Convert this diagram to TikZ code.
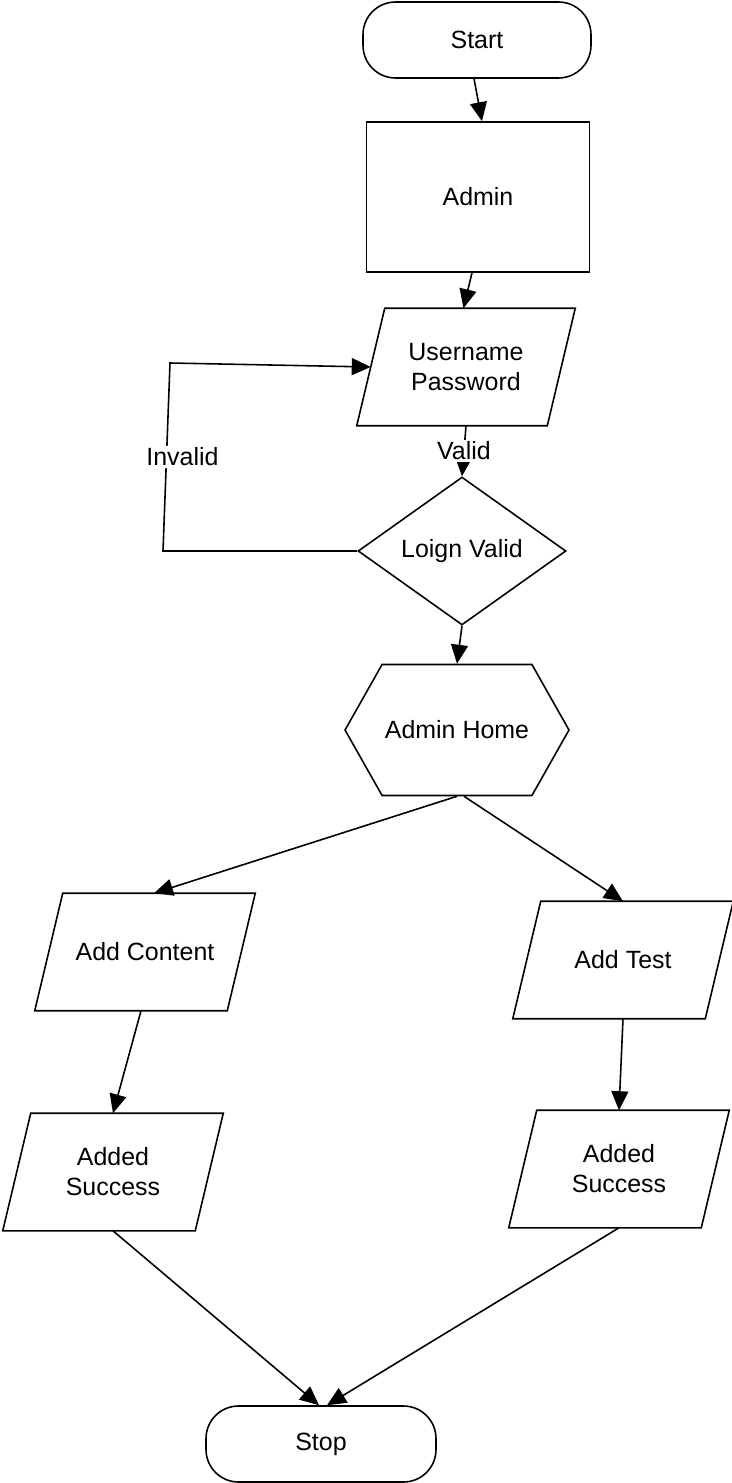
\documentclass[tikz,border=0pt]{standalone}
\usepackage{fontspec}
\setmainfont{Liberation Sans}
\usepackage{tikz}
\usetikzlibrary{shapes.geometric,shapes.symbols,arrows.meta}

\begin{document}
\begin{tikzpicture}[x=0.02cm, y=-0.02cm,
        every node/.style={font=\fontsize{14.2pt}{17pt}\selectfont, align=center, line width=0.9pt},
        terminal/.style={draw, rectangle, rounded corners=0.65cm, minimum width=4.56cm, minimum height=1.52cm},
        process/.style={draw, rectangle, minimum width=4.46cm, minimum height=3cm},
        io/.style={rectangle, minimum width=3.82cm, minimum height=2.32cm, inner sep=0pt},
        decision/.style={draw, diamond, minimum width=4.16cm, minimum height=2.96cm, inner sep=0pt},
        prep/.style={draw, signal, signal to=west and east, signal pointer angle=121, minimum width=4.48cm, minimum height=2.62cm, inner sep=0pt},
        flow/.style={line width=0.9pt, -{Triangle[length=0.38cm, width=0.34cm]}},
        lbl/.style={fill=white, inner sep=1pt}]
        \useasboundingbox (0,0) rectangle (732,1483);

        \node[terminal] (start) at (477,40) {Start};
        \node[process] (admin) at (478,197) {Admin};
        \node[io, minimum width=3.78cm] (user) at (466,367) {Username\\Password};
        \node[decision] (valid) at (462,551) {Loign Valid};
        \node[prep] (home) at (457,730) {Admin Home};
        \node[io] (content) at (145,952) {Add Content};
        \node[io] (test) at (623,960) {Add Test};
        \node[io] (succa) at (113,1172) {Added\\Success};
        \node[io] (succb) at (619,1169) {Added\\Success};
        \node[terminal, minimum width=4.6cm] (stop) at (321,1444) {Stop};

        % slanted outlines of the input/output boxes
        \foreach \n in {user,content,test,succa,succb}
            \draw[line width=0.9pt] ([xshift=0.28cm]\n.north west) -- ([xshift=0.28cm]\n.north east)
                -- ([xshift=-0.28cm]\n.south east) -- ([xshift=-0.28cm]\n.south west) -- cycle;

        \coordinate (loopbot) at (163,551);
        \coordinate (looptop) at (170,363);

        \draw[flow] ([xshift=-0.06cm]start.south) -- ([xshift=0.08cm]admin.north);
        \draw[flow] ([xshift=-0.12cm]admin.south) -- ([xshift=-0.05cm]user.north);
        \draw[flow] (user.south) -- node[lbl] {Valid} (valid.north);
        \draw[flow] (valid.west) -- (loopbot) -- node[lbl, xshift=0.32cm] {Invalid} (looptop) -- (user.west);
        \draw[flow] (valid.south) -- (home.north);
        \draw[flow] (home.south) -- ([xshift=0.18cm]content.north);
        \draw[flow] ([xshift=0.14cm]home.south) -- (test.north);
        \draw[flow] ([xshift=-0.08cm]content.south) -- (succa.north);
        \draw[flow] (test.south) -- (succb.north);
        \draw[flow] (succa.south) -- ([xshift=-0.04cm]stop.north);
        \draw[flow] (succb.south) -- ([xshift=0.12cm]stop.north);
    \end{tikzpicture}
\end{document}
